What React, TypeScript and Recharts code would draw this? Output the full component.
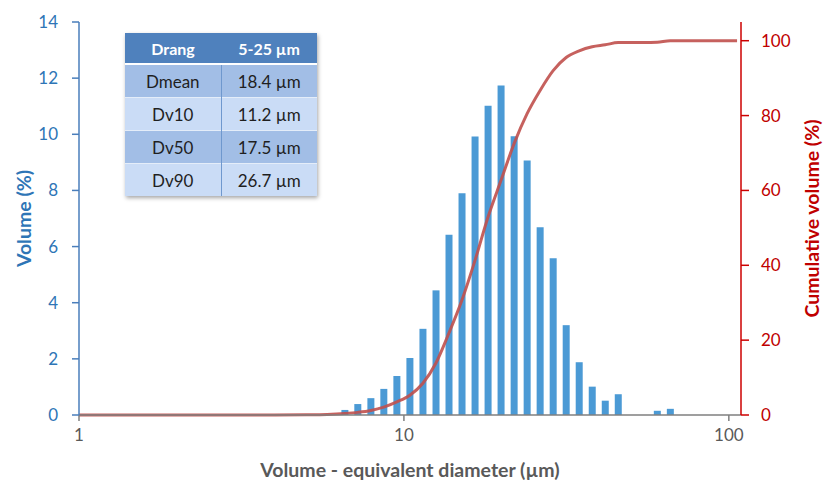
import React from 'react'
import {
  Bar,
  ComposedChart,
  Label,
  Line,
  XAxis,
  YAxis,
} from 'recharts'

// particle diameter (µm)
const diameters = [
  1, 2, 3, 4, 5, 5.8, 6.58, 7.21, 7.91, 8.67, 9.51, 10.43, 11.44, 12.55,
  13.76, 15.09, 16.55, 18.15, 19.9, 21.83, 23.94, 26.25, 28.79, 31.57, 34.62,
  37.97, 41.64, 45.66, 50.07, 54.91, 60.22, 66.04, 106,
]

// volume (%) per size class
const volume = [
  null, null, null, null, null, null, 0.18, 0.39, 0.6, 0.93, 1.39, 2.03, 3.07,
  4.44, 6.42, 7.9, 9.92, 11.02, 11.74, 9.93, 9.07, 6.69, 5.58, 3.2, 1.88, 1.01,
  0.51, 0.74, null, null, 0.15, 0.22, null,
]

// cumulative volume (%)
const cumulative = [
  0, 0, 0, 0, 0.05, 0.15, 0.4, 0.7, 1.2, 2.1, 3.5, 5.3, 8.5, 13.9, 21.9, 30.7,
  41.3, 52.9, 62.7, 72.5, 80.5, 86.7, 92, 95.5, 97.3, 98.4, 98.9, 99.5, 99.5,
  99.5, 99.6, 100, 100,
]

const xTicks = [1, 10, 100]
const volumeTicks = [0, 2, 4, 6, 8, 10, 12, 14]
const cumulativeTicks = [0, 20, 40, 60, 80, 100]

const tableHead = ['Drang', '5-25 µm']
const tableRows = [
  ['Dmean', '18.4 µm'],
  ['Dv10', '11.2 µm'],
  ['Dv50', '17.5 µm'],
  ['Dv90', '26.7 µm'],
]

const data = diameters.map((d, i) => ({
  d,
  volume: volume[i],
  cumulative: cumulative[i],
}))

const font = 'Lato, "Open Sans", sans-serif'
const blue = '#2E75B6'
const red = '#C00000'
const gray = '#595959'

function SizeTable() {
  const cell: React.CSSProperties = {
    height: 32,
    padding: 0,
    textAlign: 'center',
    fontSize: 17,
    color: '#1f1f1f',
    borderTop: '1px solid #e4edf9',
  }
  return (
    <table
      style={{
        position: 'absolute',
        left: 125,
        top: 33,
        width: 192,
        borderCollapse: 'collapse',
        fontFamily: font,
        boxShadow: '1px 2px 4px rgba(0,0,0,0.35)',
      }}
    >
      <thead>
        <tr style={{ background: '#4F81BD' }}>
          {tableHead.map((h) => (
            <th
              key={h}
              style={{
                height: 30,
                padding: 0,
                width: 96,
                color: '#fff',
                fontSize: 16,
                fontWeight: 700,
                borderBottom: '2px solid #fff',
              }}
            >
              {h}
            </th>
          ))}
        </tr>
      </thead>
      <tbody>
        {tableRows.map((r, i) => (
          <tr key={r[0]} style={{ background: i % 2 === 0 ? '#A2BEE6' : '#CADCF6' }}>
            <td style={{ ...cell, borderRight: '1px solid #6F98CE' }}>{r[0]}</td>
            <td style={cell}>{r[1]}</td>
          </tr>
        ))}
      </tbody>
    </table>
  )
}

export default function App() {
  return (
    <div
      style={{
        position: 'absolute',
        left: 0,
        top: 0,
        width: 823,
        height: 481,
        background: '#fff',
        fontFamily: font,
      }}
    >
      <ComposedChart
        width={823}
        height={481}
        data={data}
        margin={{ top: 22, right: 0, bottom: 0, left: 0 }}
      >
        <XAxis
          dataKey="d"
          type="number"
          scale="log"
          domain={[1, 109]}
          allowDataOverflow
          ticks={xTicks}
          height={66}
          stroke="#7F7F7F"
          strokeWidth={1.5}
          tickSize={6}
          tickMargin={8}
          tick={{ fill: gray, fontSize: 17, fontFamily: font }}
        >
          <Label
            value="Volume - equivalent diameter (µm)"
            position="insideBottom"
            offset={4}
            fill={gray}
            fontSize={19.5}
            fontWeight={700}
            fontFamily={font}
          />
        </XAxis>
        <YAxis
          yAxisId="left"
          domain={[0, 14]}
          ticks={volumeTicks}
          width={79}
          stroke="#4A7EBB"
          strokeWidth={1.5}
          tickSize={7}
          tickMargin={14}
          tick={{ fill: blue, fontSize: 17, fontFamily: font }}
        >
          <Label
            value="Volume (%)"
            angle={-90}
            position="center"
            dx={-15}
            fill={blue}
            fontSize={19.5}
            fontWeight={700}
            fontFamily={font}
          />
        </YAxis>
        <YAxis
          yAxisId="right"
          orientation="right"
          domain={[0, 105]}
          ticks={cumulativeTicks}
          width={82}
          stroke="#CC0000"
          strokeWidth={1.5}
          tickSize={8}
          tickMargin={12}
          tick={{ fill: red, fontSize: 17, fontFamily: font }}
        >
          <Label
            value="Cumulative volume (%)"
            angle={-90}
            position="center"
            dx={30}
            fill={red}
            fontSize={19.5}
            fontWeight={700}
            fontFamily={font}
          />
        </YAxis>
        <Bar
          yAxisId="left"
          dataKey="volume"
          fill="#4B9AD5"
          barSize={7}
          isAnimationActive={false}
        />
        <Line
          yAxisId="right"
          type="monotone"
          dataKey="cumulative"
          stroke="#C0504D"
          strokeWidth={3}
          strokeOpacity={0.9}
          dot={false}
          activeDot={false}
          isAnimationActive={false}
        />
      </ComposedChart>
      <SizeTable />
    </div>
  )
}
